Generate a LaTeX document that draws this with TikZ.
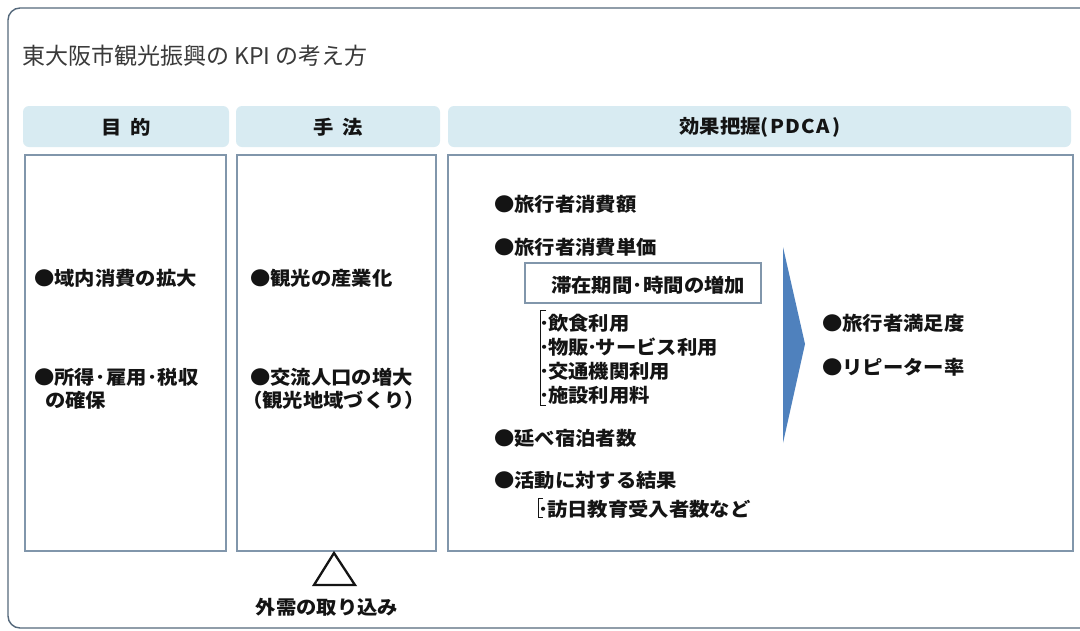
\documentclass[tikz,border=0pt]{standalone}
\usepackage{fontspec}
\setmainfont{Noto Sans CJK JP}
\newfontfamily\jpb{Noto Sans CJK JP}[FakeStretch=1.07]
\newcommand\ndot{\makebox[7pt][c]{･}}
\newcommand\wdot{\makebox[11pt][c]{･}}
\definecolor{frame}{HTML}{55697C}
\definecolor{boxline}{HTML}{8196AB}
\definecolor{headfill}{HTML}{D8EBF2}
\definecolor{arrowblue}{HTML}{4F81BD}
\definecolor{titlegray}{HTML}{3A3A3A}
\definecolor{txt}{HTML}{141414}
\tikzset{
  outerframe/.style={draw=frame,line width=1.4pt,rounded corners=12pt},
  headbox/.style={fill=headfill,draw=none,rounded corners=6pt},
  bodybox/.style={draw=boxline,line width=1.2pt,fill=white},
  subbox/.style={draw=boxline,line width=1.2pt},
  headtxt/.style={font=\jpb\fontsize{19}{22}\selectfont\bfseries,text=txt,inner sep=0pt},
  item/.style={font=\jpb\fontsize{19}{22}\selectfont\bfseries,text=txt,inner sep=0pt,anchor=west},
  brack/.style={draw=txt,line width=1pt},
}
\begin{document}
\begin{tikzpicture}[x=1pt,y=-1pt]
\clip (0,0) rectangle (1080,630);
\fill[white] (0,0) rectangle (1080,630);
\draw[outerframe] (8,8) rectangle (1110,628);
\node[anchor=west,inner sep=0pt,text=titlegray,font=\fontsize{23}{26}\selectfont] (title) at (22,56) {東大阪市観光振興の KPI の考え方};
% headers
\fill[headbox] (23,106) rectangle (229,147);
\fill[headbox] (236,106) rectangle (440,147);
\fill[headbox] (448,106) rectangle (1071,147);
\node[headtxt] (h1) at (126,127) {目\hspace{9pt}的};
\node[headtxt] (h2) at (338,127) {手\hspace{9pt}法};
\node[headtxt] (h3) at (760,127) {効果把握(\kern1pt P\kern1.5pt D\kern1.5pt C\kern1.5pt A\kern2pt)};
% bodies
\draw[bodybox] (25,155) rectangle (226,551);
\draw[bodybox] (237,155) rectangle (436,551);
\draw[bodybox] (448,155) rectangle (1073,551);
% left column
\node[item] (l1) at (34,278) {●域内消費の拡大};
\node[item] (l2) at (34,377) {●所得\wdot 雇用\wdot 税収};
\node[item] (l3) at (45,400) {の確保};
% middle column
\node[item] (m1) at (250,278) {●観光の産業化};
\node[item] (m2) at (250,377) {●交流人口の増大};
\node[item] (m3) at (242,400) {（観光地域づくり）};
% right column
\node[item] (r1) at (494,204) {●旅行者消費額};
\node[item] (r2) at (494,247) {●旅行者消費単価};
\draw[subbox] (525,263) rectangle (761,303);
\node[item] (r3) at (551,285) {滞在期間\wdot 時間の増加};
\draw[brack] (546,310) -- (540,310) -- (540,405) -- (546,405);
\node[item] (r4) at (541,323) {\ndot 飲食利用};
\node[item] (r5) at (541,347) {\ndot 物販\ndot サービス利用};
\node[item] (r6) at (541,371) {\ndot 交通機関利用};
\node[item] (r7) at (541,395) {\ndot 施設利用料};
\node[item] (r8) at (494,438) {●延べ宿泊者数};
\node[item] (r9) at (494,480) {●活動に対する結果};
\draw[brack] (543,498) -- (538,498) -- (538,517) -- (543,517);
\node[item] (r10) at (540,509) {\ndot 訪日教育受入者数など};
% arrow
\fill[arrowblue] (783,247) -- (805,344) -- (783,443) -- cycle;
\node[item] (s1) at (822,323) {●旅行者満足度};
\node[item] (s2) at (822,367) {●リピーター率};
% triangle and label
\draw[draw=txt,line width=2.3pt,line join=miter] (334,553) -- (355,585) -- (314,585) -- cycle;
\node[headtxt] (ext) at (327,607) {外需の取り込み};
\end{tikzpicture}
\end{document}
